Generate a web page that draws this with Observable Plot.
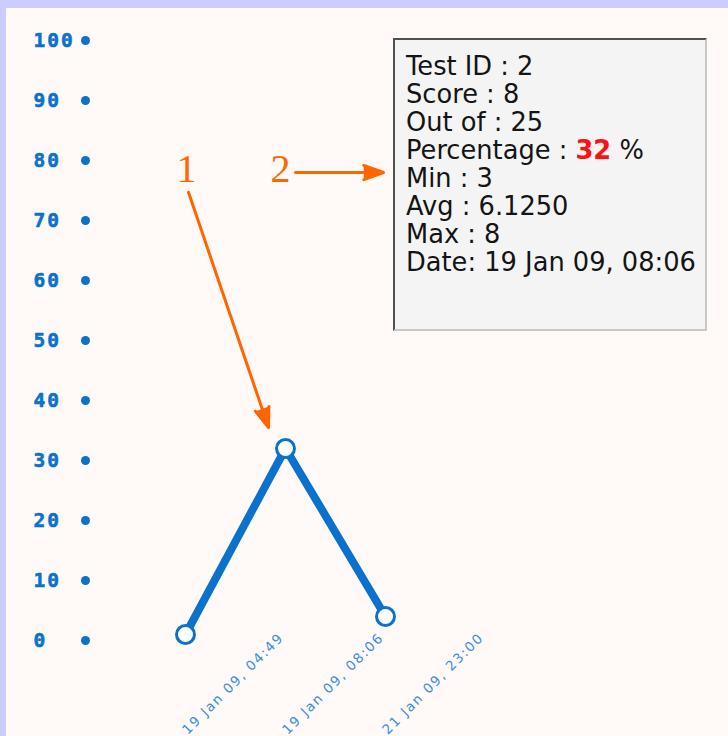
<!DOCTYPE html>
<html>
<head>
<meta charset="utf-8">
<script src="https://cdn.jsdelivr.net/npm/d3@7"></script>
<script src="https://cdn.jsdelivr.net/npm/@observablehq/plot@0.6"></script>
<style>
html, body { margin: 0; padding: 0; width: 728px; height: 736px; overflow: hidden; background: #ccccff; }
#frame { position: absolute; left: 6px; top: 8px; width: 722px; height: 728px; background: #fffaf7; }
#frame svg { position: absolute; left: 0; top: 0; }
#frame svg .ylab text { letter-spacing: 2px; }
#frame svg .xlab text { letter-spacing: 1.6px; }
#tip {
  position: absolute; left: 387px; top: 30px; width: 314px; height: 293px; box-sizing: border-box;
  background: #f4f4f4; border-top: 2px solid #505050; border-left: 2px solid #505050;
  border-right: 2px solid #c8c8c8; border-bottom: 2px solid #c8c8c8;
  padding: 12px 0 0 11px; font-family: "DejaVu Sans", Verdana, sans-serif; font-size: 25.7px; line-height: 28px; color: #141414;
  white-space: nowrap;
}
#tip .hl { color: #ff1010; font-weight: bold; }
</style>
</head>
<body>
<div id="frame"></div>
<script>
// ---- data ----
const xLabels = ["19 Jan 09, 04:49", "19 Jan 09, 08:06", "21 Jan 09, 23:00"];
const percentages = [1, 32, 4];
const yTicks = [0, 10, 20, 30, 40, 50, 60, 70, 80, 90, 100];

// annotations (data coordinates: x = test index, y = percentage)
const annotationText = ["1", "2"];
const annotationX = [0.01, 0.95];
const annotationY = [78.5, 78.5];
const arrowX1 = [0.03, 1.10];
const arrowY1 = [74.7, 78];
const arrowX2 = [0.83, 1.98];
const arrowY2 = [35.5, 78];

// tooltip content
const tipLabels = ["Test ID : ", "Score : ", "Out of : ", "Percentage : ", "Min : ", "Avg : ", "Max : ", "Date: "];
const tipValues = ["2", "8", "25", "32", "3", "6.1250", "8", "19 Jan 09, 08:06"];
const tipSuffix = ["", "", "", " %", "", "", "", ""];

const blue = "#0a72cc";
const orange = "#ff6600";

const plot = Plot.plot({
  width: 722,
  height: 728,
  marginLeft: 79,
  marginRight: 243,
  marginTop: 32,
  marginBottom: 96,
  x: { type: "linear", domain: [-1, 3], axis: null },
  y: { domain: [0, 100], axis: null },
  style: { background: "transparent", overflow: "visible" },
  marks: [
    Plot.text(yTicks, {
      y: d => d, text: d => String(d), frameAnchor: "left", textAnchor: "start", dx: -52,
      fontFamily: "DejaVu Sans Mono", fontWeight: "bold", fontSize: 19.5, fill: blue,
      stroke: blue, strokeWidth: 0.6, className: "ylab"
    }),
    Plot.dot(yTicks, { y: d => d, frameAnchor: "left", r: 4.5, fill: blue, stroke: "none" }),
    Plot.text(xLabels, {
      x: (d, i) => i + 1, frameAnchor: "bottom", text: d => d, rotate: -45, textAnchor: "end",
      dy: -2, dx: -1, fontFamily: "DejaVu Sans", fontSize: 13.5, fill: "#3a8ede", className: "xlab"
    }),
    Plot.line(percentages, { x: (d, i) => i, y: d => d, stroke: blue, strokeWidth: 8, strokeLinejoin: "round" }),
    Plot.dot(percentages, { x: (d, i) => i, y: d => d, r: 9, fill: "white", stroke: blue, strokeWidth: 3 }),
    Plot.arrow(d3.range(arrowX1.length), {
      x1: i => arrowX1[i], y1: i => arrowY1[i], x2: i => arrowX2[i], y2: i => arrowY2[i],
      stroke: orange, fill: orange, strokeWidth: 3, headLength: 10.5, headAngle: 40, strokeLinejoin: "miter"
    }),
    Plot.text(annotationText, {
      x: (d, i) => annotationX[i], y: (d, i) => annotationY[i], text: d => d,
      fontFamily: "Liberation Serif", fontSize: 40, fill: orange, lineAnchor: "middle"
    })
  ]
});

const frame = document.getElementById("frame");
frame.appendChild(plot);

const tip = document.createElement("div");
tip.id = "tip";
tip.innerHTML = tipLabels.map((l, i) =>
  `<div>${l}${i === 3 ? `<span class="hl">${tipValues[i]}</span>` : tipValues[i]}${tipSuffix[i]}</div>`
).join("");
frame.appendChild(tip);
</script>
</body>
</html>
